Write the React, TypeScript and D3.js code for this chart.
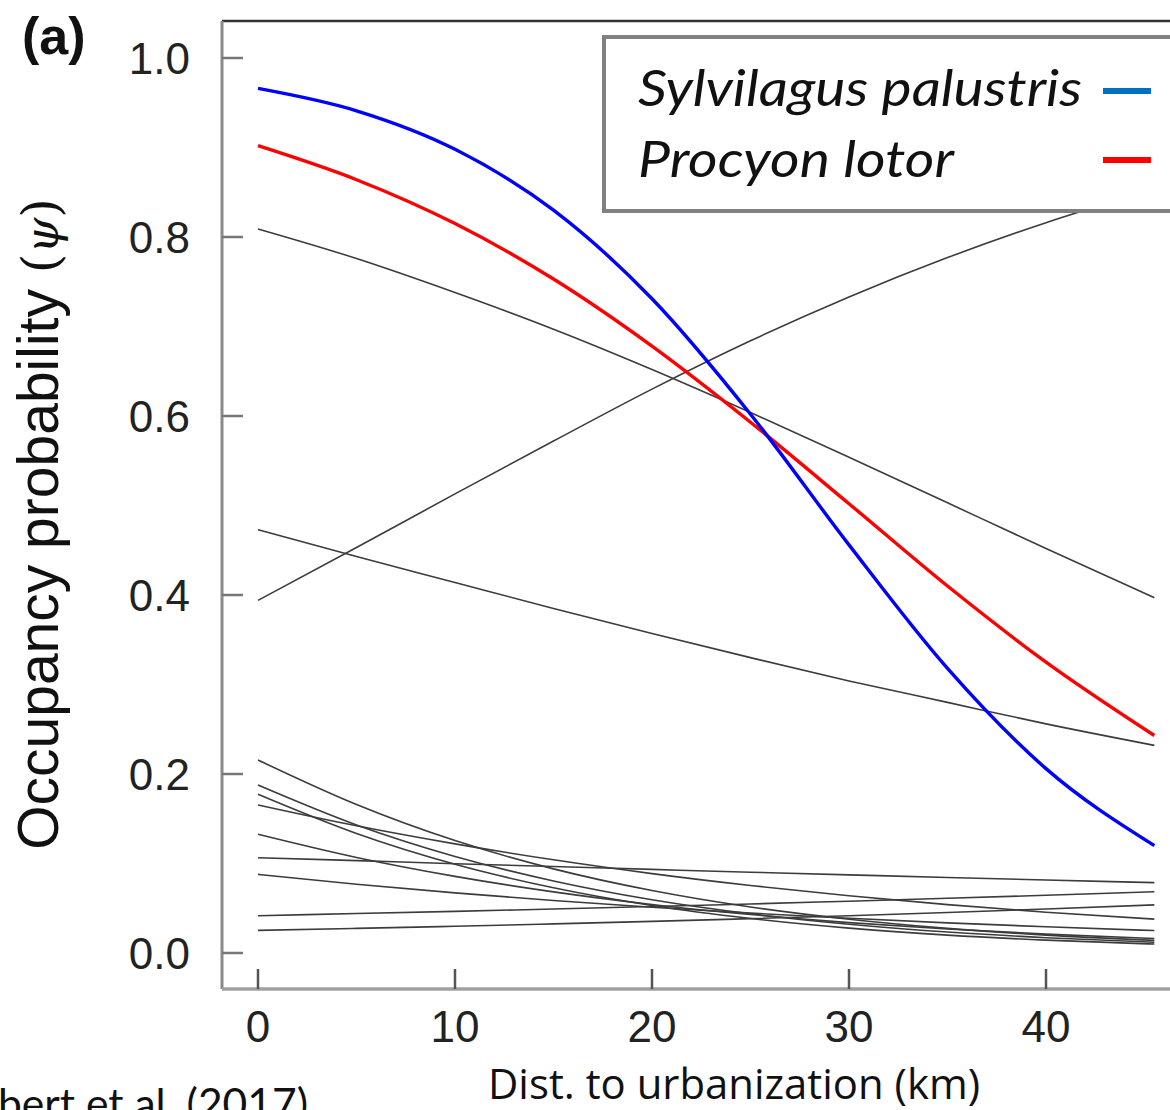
import React from "react";
import * as d3 from "d3";

// distance to urbanization (km) at which each curve was read
const X_KM = [0, 5, 10, 15, 20, 25, 30, 35, 40, 45.5];

// highlighted species
const SYLVILAGUS = [0.966, 0.941, 0.898, 0.83, 0.731, 0.602, 0.456, 0.318, 0.206, 0.12];
const PROCYON = [0.902, 0.864, 0.815, 0.753, 0.678, 0.593, 0.502, 0.41, 0.325, 0.243];

// other species (grey)
const SP_A = [0.809, 0.776, 0.738, 0.697, 0.652, 0.604, 0.554, 0.503, 0.452, 0.397];
const SP_B = [0.394, 0.453, 0.513, 0.572, 0.63, 0.684, 0.733, 0.777, 0.816, 0.853];
const SP_C = [0.473, 0.443, 0.414, 0.385, 0.357, 0.33, 0.304, 0.28, 0.256, 0.232];
const SP_D = [0.2156, 0.1659, 0.1256, 0.094, 0.0698, 0.0514, 0.0377, 0.0275, 0.02, 0.0141];
const SP_E = [0.1877, 0.1431, 0.1079, 0.0805, 0.0595, 0.0438, 0.0321, 0.0234, 0.0171, 0.012];
const SP_F = [0.1773, 0.1335, 0.0991, 0.0729, 0.0531, 0.0386, 0.0278, 0.02, 0.0144, 0.01];
const SP_G = [0.1654, 0.1421, 0.1219, 0.1041, 0.0887, 0.0754, 0.0639, 0.054, 0.0456, 0.0379];
const SP_H = [0.1326, 0.1067, 0.0856, 0.0683, 0.0542, 0.043, 0.0339, 0.0268, 0.0211, 0.0162];
const SP_I = [0.1065, 0.1032, 0.0998, 0.0966, 0.0934, 0.0903, 0.0873, 0.0844, 0.0816, 0.0786];
const SP_J = [0.0879, 0.0769, 0.0672, 0.0587, 0.0512, 0.0446, 0.0388, 0.0337, 0.0293, 0.0251];
const SP_K = [0.0417, 0.0441, 0.0465, 0.0492, 0.0519, 0.0548, 0.0579, 0.0611, 0.0645, 0.0684];
const SP_L = [0.0253, 0.0275, 0.0299, 0.0325, 0.0353, 0.0384, 0.0417, 0.0453, 0.0492, 0.0538];

const GREY_SERIES = [SP_A, SP_B, SP_C, SP_D, SP_E, SP_F, SP_G, SP_H, SP_I, SP_J, SP_K, SP_L];

const Y_TICKS = [0, 0.2, 0.4, 0.6, 0.8, 1.0];
const X_TICKS = [0, 10, 20, 30, 40];

const LEGEND_NAMES = ["Sylvilagus palustris", "Procyon lotor"];
const LEGEND_COLORS = ["#0070C0", "#FF0000"];

export default function App() {
  const W = 1170;
  const H = 1110;
  const x = d3.scaleLinear().domain([0, 40]).range([258, 1046]);
  const y = d3.scaleLinear().domain([0, 1]).range([953, 58]);

  const line = d3
    .line<number>()
    .x((_, i) => x(X_KM[i]))
    .y((d) => y(d))
    .curve(d3.curveMonotoneX);

  const left = 222;
  const top = 21;
  const bottom = 989;

  const tickFont = "'Liberation Sans', Arial, sans-serif";

  return (
    <svg
      width={W}
      height={H}
      viewBox={`0 0 ${W} ${H}`}
      style={{ position: "absolute", left: 0, top: 0, background: "#fff", overflow: "hidden" }}
    >
      <rect x={0} y={0} width={W} height={H} fill="#fff" />

      {/* grey curves */}
      {GREY_SERIES.map((s, i) => (
        <path key={i} d={line(s) || ""} fill="none" stroke="#3c3c3c" strokeWidth={1.6} />
      ))}
      <path d={line(PROCYON) || ""} fill="none" stroke="#FF0000" strokeWidth={3.4} />
      <path d={line(SYLVILAGUS) || ""} fill="none" stroke="#0000FF" strokeWidth={3.4} />

      {/* frame */}
      <line x1={left} y1={top} x2={W} y2={top} stroke="#333" strokeWidth={2.5} />
      <line x1={left} y1={top} x2={left} y2={bottom} stroke="#8a8a8a" strokeWidth={3} />
      <line x1={left} y1={bottom} x2={W} y2={bottom} stroke="#a0a0a0" strokeWidth={3.5} />

      {/* y ticks */}
      {Y_TICKS.map((t) => (
        <g key={t}>
          <line x1={left} x2={243} y1={y(t)} y2={y(t)} stroke="#777" strokeWidth={2.5} />
          <text
            x={190}
            y={y(t)}
            dy="0.36em"
            textAnchor="end"
            fontFamily={tickFont}
            fontSize={44}
            fill="#222"
          >
            {d3.format(".1f")(t)}
          </text>
        </g>
      ))}

      {/* x ticks */}
      {X_TICKS.map((t) => (
        <g key={t}>
          <line x1={x(t)} x2={x(t)} y1={969} y2={bottom} stroke="#555" strokeWidth={2.5} />
          <text
            x={x(t)}
            y={1042}
            textAnchor="middle"
            fontFamily={tickFont}
            fontSize={44}
            fill="#222"
          >
            {t}
          </text>
        </g>
      ))}

      {/* y axis title */}
      <text
        transform="translate(58,524) rotate(-90)"
        textAnchor="middle"
        fontFamily={tickFont}
        fontSize={57}
        fill="#111"
      >
        <tspan>Occupancy probability </tspan>
        <tspan fontFamily="'DejaVu Serif', serif" fontWeight={300} fontSize={50}>(</tspan>
        <tspan fontFamily="'DejaVu Serif', serif" fontStyle="italic" fontSize={46}>ψ</tspan>
        <tspan fontFamily="'DejaVu Serif', serif" fontWeight={300} fontSize={50}>)</tspan>
      </text>

      {/* x axis title */}
      <text
        x={488}
        y={1099}
        fontFamily="'Liberation Sans Narrow', 'Open Sans', sans-serif"
        fontSize={42}
        fill="#111"
        textLength={492}
        lengthAdjust="spacingAndGlyphs"
      >
        Dist. to urbanization (km)
      </text>

      {/* panel label */}
      <text x={22} y={54} fontFamily={tickFont} fontWeight="bold" fontSize={52} fill="#111">
        (a)
      </text>

      {/* citation fragment */}
      <text
        x={-2}
        y={1119}
        fontFamily="Lato, 'Open Sans', sans-serif"
        fontSize={42}
        fill="#111"
        textLength={310}
        lengthAdjust="spacingAndGlyphs"
      >
        bert et al. (2017)
      </text>

      {/* legend */}
      <rect x={604} y={37} width={600} height={174} fill="#fff" stroke="#808080" strokeWidth={4} />
      {LEGEND_NAMES.map((n, i) => (
        <g key={n}>
          <text
            x={638}
            y={106 + i * 71}
            fontFamily="Lato, 'Open Sans', sans-serif"
            fontStyle="italic"
            fontSize={50}
            fill="#111"
            textLength={i === 0 ? 444 : 316}
            lengthAdjust="spacingAndGlyphs"
          >
            {n}
          </text>
          <line
            x1={1103}
            x2={1151}
            y1={91 + i * 69}
            y2={91 + i * 69}
            stroke={LEGEND_COLORS[i]}
            strokeWidth={6}
          />
        </g>
      ))}
    </svg>
  );
}
